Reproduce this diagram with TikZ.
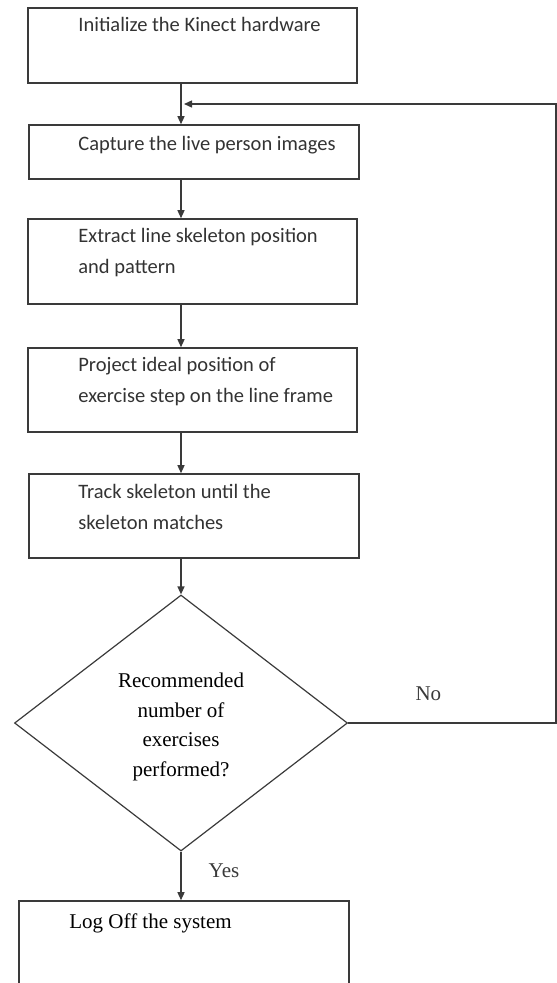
\documentclass[tikz,border=0pt]{standalone}
\usepackage{fontspec}
\setmainfont{Liberation Serif}
\newfontfamily\boxFont{Carlito}
\usepackage{xcolor}
\definecolor{lineDark}{HTML}{3A3A3A}
\definecolor{textDark}{HTML}{333333}
\usepackage{tikz}
\usetikzlibrary{shapes,arrows,positioning,calc,arrows.meta,shapes.geometric}
\tikzset{%
  stepBox/.style={%
    rectangle,
    draw=lineDark,
    line width=1.6pt,
    minimum width=329pt,
    inner sep=0pt
  },
  stepText/.style={%
    anchor=base west,
    inner sep=0pt,
    align=left,
    text=textDark,
    font=\boxFont\fontsize{20.5}{31}\selectfont
  },
  decisionBox/.style={%
    diamond,
    draw=lineDark,
    line width=1.2pt,
    aspect=1.3,
    inner sep=0pt,
    minimum width=333pt,
    minimum height=256pt,
    align=center,
    font=\fontsize{21}{29.7}\selectfont
  },
  arrowLine/.style={%
    -{Triangle[length=8pt,width=7pt]},
    line width=1.4pt,
    color=lineDark
  },
  edgeLabel/.style={%
    inner sep=0pt,
    font=\fontsize{21}{25}\selectfont
  }
}
\begin{document}
\begin{tikzpicture}[x=1pt,y=-1pt]
            \useasboundingbox (0,0) rectangle (557,983);

            \node[stepBox, minimum height=75pt] (init) at (192.5,45.5) {};
            \node[stepBox, minimum width=330pt, minimum height=54pt] (capture) at (194,152) {};
            \node[stepBox, minimum height=85pt] (extract) at (192.5,261.5) {};
            \node[stepBox, minimum height=84pt] (project) at (192.5,390) {};
            \node[stepBox, minimum width=330pt, minimum height=84pt] (track) at (194,516) {};
            \node[decisionBox] (dec) at (181,723) {\rule{0pt}{22.5pt}Recommended\\number of\\exercises\\performed?};
            \node[stepBox, minimum width=330pt, minimum height=94pt] (logoff) at (184,948) {};

            \node[stepText] (initText) at ($(init.north west)+(51,24.5)$) {Initialize the Kinect hardware};
            \node[stepText] (captureText) at ($(capture.north west)+(50,26.5)$) {Capture the live person images};
            \node[stepText] (extractText) at ($(extract.north west)+(51,55.5)$) {Extract line skeleton position\\and pattern};
            \node[stepText] (projectText) at ($(project.north west)+(51,55.5)$) {Project ideal position of\\exercise step on the line frame};
            \node[stepText] (trackText) at ($(track.north west)+(50,56.5)$) {Track skeleton until the\\skeleton matches};
            \node[edgeLabel, anchor=base west] (logoffText) at ($(logoff.north west)+(51,28)$) {Log Off the system};

            \coordinate (loopCorner) at (556,104);
            \coordinate (loopEnd) at (184,104);

            \draw[arrowLine] (init.south -| dec.north) -- (capture.north -| dec.north);
            \draw[arrowLine] (capture.south -| dec.north) -- (extract.north -| dec.north);
            \draw[arrowLine] (extract.south -| dec.north) -- (project.north -| dec.north);
            \draw[arrowLine] (project.south -| dec.north) -- (track.north -| dec.north);
            \draw[arrowLine] (track.south -| dec.north) -- (dec.north);
            \draw[arrowLine] (dec.south) -- node[edgeLabel, pos=0.4, right=27pt] {Yes} (logoff.north -| dec.south);
            \draw[arrowLine] (dec.east) -- node[edgeLabel, pos=0.386, above=22pt] {No} (dec.east -| loopCorner) -- (loopCorner) -- (loopEnd);
        \end{tikzpicture}
\end{document}
